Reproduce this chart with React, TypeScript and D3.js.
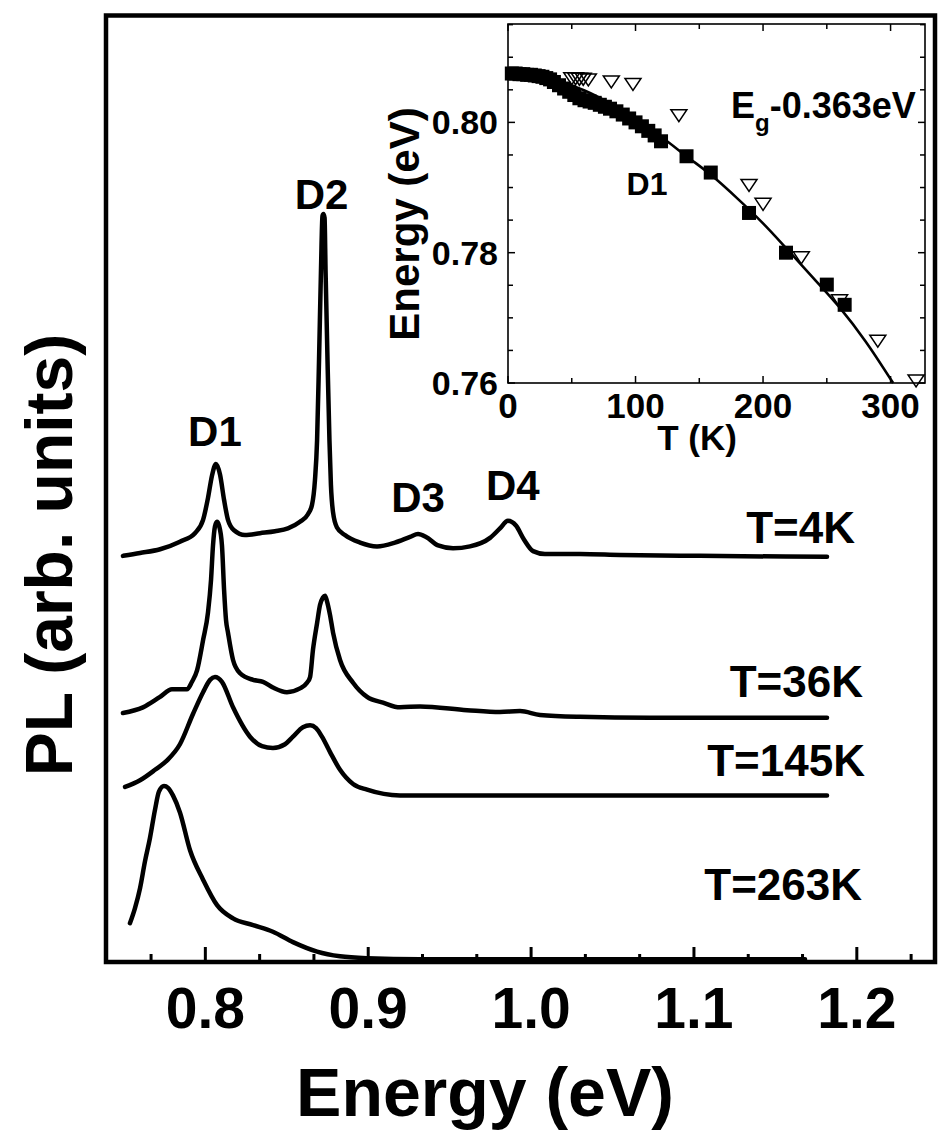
import React from "react";
import * as d3 from "d3";

// ---------- main panel: PL spectra (energy in eV, intensity in arb. units) ----------
const energyTicks = [0.8, 0.9, 1.0, 1.1, 1.2];

const spec4K_E = [0.7494, 0.7599, 0.7722, 0.7844, 0.7936, 0.7986, 0.8016, 0.8041, 0.8065, 0.809, 0.8115, 0.8139, 0.8176, 0.8243, 0.8336, 0.8428, 0.8507, 0.8581, 0.863, 0.8655, 0.8673, 0.8686, 0.8698, 0.871, 0.8719, 0.8725, 0.8732, 0.8738, 0.875, 0.8762, 0.8771, 0.8784, 0.8808, 0.8857, 0.895, 0.9054, 0.9164, 0.9257, 0.9306, 0.9355, 0.9429, 0.9521, 0.9625, 0.9748, 0.9809, 0.9858, 0.9907, 0.9957, 1.0012, 1.0085, 1.03, 1.0546, 1.1037, 1.1817];
const spec4K_I = [42.9, 43.2, 43.6, 44.4, 45.3, 46.7, 49.0, 51.4, 52.6, 51.5, 48.8, 46.7, 45.6, 45.1, 45.3, 45.5, 45.8, 46.5, 47.3, 48.3, 50.9, 55.1, 63.6, 73.1, 78.8, 79.0, 78.6, 73.1, 63.6, 55.1, 50.4, 47.5, 45.9, 45.1, 44.3, 43.9, 44.3, 44.9, 45.2, 44.9, 44.0, 43.7, 43.9, 44.8, 45.8, 46.6, 46.1, 44.6, 43.4, 43.1, 43.1, 43.0, 42.9, 42.8];

const spec36K_E = [0.7494, 0.7617, 0.7722, 0.7795, 0.7887, 0.7918, 0.7949, 0.7986, 0.8016, 0.8035, 0.8047, 0.8059, 0.8071, 0.8084, 0.8102, 0.8115, 0.8127, 0.8139, 0.817, 0.8213, 0.8293, 0.8354, 0.8415, 0.8501, 0.8581, 0.8624, 0.8643, 0.8661, 0.8686, 0.8704, 0.8722, 0.8735, 0.8747, 0.8765, 0.8784, 0.8827, 0.8907, 0.8993, 0.9091, 0.9195, 0.9318, 0.9607, 0.9809, 0.9932, 1.0055, 1.03, 1.073, 1.1817];
const spec36K_I = [26.3, 26.9, 28.0, 28.8, 28.8, 29.6, 30.8, 34.0, 36.9, 40.4, 44.0, 46.0, 46.5, 46.1, 44.0, 39.3, 36.1, 34.8, 31.9, 30.5, 29.8, 29.6, 29.0, 28.5, 28.9, 29.5, 30.1, 33.0, 35.8, 37.7, 38.5, 38.7, 38.1, 36.7, 34.8, 31.9, 29.5, 28.0, 27.4, 26.9, 27.0, 26.6, 26.4, 26.5, 26.1, 25.9, 25.8, 25.8];

const spec145K_E = [0.7507, 0.7599, 0.7691, 0.7765, 0.7844, 0.7924, 0.7986, 0.8029, 0.8059, 0.8102, 0.817, 0.8274, 0.8348, 0.8415, 0.8489, 0.8538, 0.8599, 0.8643, 0.868, 0.8716, 0.8765, 0.8827, 0.8907, 0.8993, 0.9195, 0.9809, 1.1817];
const spec145K_I = [18.5, 19.2, 20.3, 21.3, 23.0, 26.2, 28.5, 29.8, 30.1, 29.6, 26.9, 23.8, 22.8, 22.6, 23.0, 23.8, 24.8, 25.0, 24.7, 23.8, 22.2, 20.3, 18.8, 18.2, 17.6, 17.6, 17.6];

const spec263K_E = [0.7537, 0.7568, 0.7599, 0.7629, 0.766, 0.7691, 0.7715, 0.7746, 0.7771, 0.7801, 0.7844, 0.7906, 0.7986, 0.8072, 0.817, 0.8293, 0.8415, 0.8538, 0.8686, 0.8827, 0.8993, 0.9318, 1.1682];
const spec263K_I = [4.1, 5.7, 7.8, 10.6, 13.1, 16.1, 18.0, 18.6, 18.4, 17.6, 15.8, 11.8, 8.7, 6.0, 4.6, 3.9, 3.2, 2.1, 1.1, 0.6, 0.4, 0.3, 0.3];

const spectra = [
  { label: "T=4K", E: spec4K_E, I: spec4K_I },
  { label: "T=36K", E: spec36K_E, I: spec36K_I },
  { label: "T=145K", E: spec145K_E, I: spec145K_I },
  { label: "T=263K", E: spec263K_E, I: spec263K_I },
];

// peak names and the (energy, intensity) they sit above
const peakNames = ["D1", "D2", "D3", "D4"];
const peakE = [0.8059, 0.8714, 0.9306, 0.9888];
const peakI = [54.5, 79.5, 47.5, 48.8];

// temperature labels: right end energy and baseline intensity
const tempLabelE = [1.1989, 1.2038, 1.205, 1.2032];
const tempLabelI = [44.3, 28.0, 19.6, 6.5];

// ---------- inset: D1 peak energy vs temperature ----------
const insetTTicks = [0, 100, 200, 300];
const insetETicks = [0.76, 0.78, 0.8];

const d1SquareT = [3, 6, 9, 12, 15, 18, 21, 24, 27, 30, 33, 36, 40, 44, 48, 52, 56, 60, 64, 68, 72, 76, 80, 85, 90, 95, 100, 105, 110, 115, 120, 140, 159, 189, 218, 250, 264];
const d1SquareE = [0.8075, 0.8075, 0.8074, 0.8074, 0.8073, 0.8073, 0.8072, 0.8071, 0.807, 0.8068, 0.8066, 0.8062, 0.8057, 0.8052, 0.8047, 0.8042, 0.8037, 0.8034, 0.8032, 0.803, 0.8027, 0.8024, 0.8021, 0.8017, 0.8012, 0.8006, 0.8, 0.7994, 0.7987, 0.798, 0.7971, 0.7948, 0.7923, 0.7861, 0.78, 0.7751, 0.772];

const openTriT = [50, 53, 56, 59, 63, 81, 98, 134, 189, 200, 230, 260, 290, 320];
const openTriE = [0.8069, 0.8069, 0.8068, 0.8068, 0.8067, 0.8064, 0.806, 0.8012, 0.7905, 0.7876, 0.7794, 0.7728, 0.7666, 0.7605];

// band gap shifted by 0.363 eV
const gapLineT = [0, 20, 40, 60, 80, 100, 120, 140, 160, 180, 200, 220, 240, 260, 280, 302];
const gapLineE = [0.8075, 0.8072, 0.8063, 0.8049, 0.8029, 0.8004, 0.7978, 0.7948, 0.7918, 0.7883, 0.7845, 0.7803, 0.776, 0.7716, 0.7665, 0.76];

const FONT = "'Liberation Sans', Arial, Helvetica, sans-serif";

export default function App() {
  const W = 939;
  const H = 1134;

  // main axes
  const x = d3.scaleLinear().domain([0.739, 1.248]).range([106, 935]);
  const y = d3.scaleLinear().domain([0, 100]).range([962, 15.3]);

  const majorTicks = energyTicks;
  const minorTicks: number[] = [];
  for (let k = -2; k <= 13; k++) {
    const v = 0.8 + (k * 0.1) / 3;
    if (k % 3 !== 0 && v > 0.739 && v < 1.248) minorTicks.push(v);
  }

  const spectrumLine = d3
    .line<[number, number]>()
    .x((d) => x(d[0]))
    .y((d) => y(d[1]))
    .curve(d3.curveMonotoneX);

  // inset axes
  const ix = d3.scaleLinear().domain([0, 327]).range([508, 925]);
  const iy = d3.scaleLinear().domain([0.76, 0.8151]).range([383, 24]);
  const insetTMinor = d3.range(50, 327, 100);
  const insetEMinor = d3
    .range(0.765, 0.8151, 0.005)
    .filter((v) => Math.abs((v - 0.76) / 0.02 - Math.round((v - 0.76) / 0.02)) > 0.01);

  const fitLine = d3
    .line<[number, number]>()
    .x((d) => ix(d[0]))
    .y((d) => iy(d[1]))
    .curve(d3.curveMonotoneX);

  const sq = 14;
  const tri = 8;

  return (
    <svg
      width={W}
      height={H}
      viewBox={`0 0 ${W} ${H}`}
      style={{ position: "absolute", left: 0, top: 0, background: "#fff" }}
      fontFamily={FONT}
      fontWeight="bold"
    >
      <rect x={0} y={0} width={W} height={H} fill="#fff" />

      {/* spectra */}
      {spectra.map((s) => (
        <path
          key={s.label}
          d={spectrumLine(s.E.map((e, i) => [e, s.I[i]] as [number, number])) || ""}
          fill="none"
          stroke="#000"
          strokeWidth={4.5}
          strokeLinejoin="round"
          strokeLinecap="round"
        />
      ))}

      {/* bottom axis ticks (inward) */}
      {majorTicks.map((t) => (
        <line key={"M" + t} x1={x(t)} x2={x(t)} y1={962} y2={947} stroke="#000" strokeWidth={3} />
      ))}
      {minorTicks.map((t) => (
        <line key={"m" + t} x1={x(t)} x2={x(t)} y1={962} y2={954} stroke="#000" strokeWidth={3} />
      ))}

      {/* main frame */}
      <rect x={106} y={15.5} width={829} height={946.5} fill="none" stroke="#000" strokeWidth={4.5} />

      {/* tick labels */}
      {majorTicks.map((t) => (
        <text key={"L" + t} x={x(t)} y={1028} textAnchor="middle" fontSize={57}>
          {d3.format(".1f")(t)}
        </text>
      ))}

      {/* axis titles */}
      <text x={485} y={1116} textAnchor="middle" fontSize={68}>
        Energy (eV)
      </text>
      <text transform="translate(72,555) rotate(-90)" textAnchor="middle" fontSize={66}>
        PL (arb. units)
      </text>

      {/* peak labels */}
      {peakNames.map((n, i) => (
        <text key={n} x={x(peakE[i])} y={y(peakI[i])} textAnchor="middle" fontSize={42}>
          {n}
        </text>
      ))}

      {/* temperature labels */}
      {spectra.map((s, i) => (
        <text key={"t" + s.label} x={x(tempLabelE[i])} y={y(tempLabelI[i])} textAnchor="end" fontSize={44}>
          {s.label}
        </text>
      ))}

      {/* ---------- inset ---------- */}
      <g>
        <rect x={508} y={24} width={417} height={359} fill="#fff" stroke="#000" strokeWidth={1.6} />
        {insetTTicks.concat(insetTMinor).map((t) => {
          const major = insetTTicks.includes(t);
          const len = major ? 7 : 5;
          return (
            <g key={"it" + t}>
              <line x1={ix(t)} x2={ix(t)} y1={383} y2={383 - len} stroke="#000" strokeWidth={1.5} />
              <line x1={ix(t)} x2={ix(t)} y1={24} y2={24 + len} stroke="#000" strokeWidth={1.5} />
            </g>
          );
        })}
        {insetETicks.concat(insetEMinor).map((e) => {
          const major = insetETicks.includes(e);
          const len = major ? 7 : 5;
          return (
            <g key={"ie" + e}>
              <line x1={508} x2={508 + len} y1={iy(e)} y2={iy(e)} stroke="#000" strokeWidth={1.5} />
              <line x1={925} x2={925 - len} y1={iy(e)} y2={iy(e)} stroke="#000" strokeWidth={1.5} />
            </g>
          );
        })}

        {/* fit line */}
        <path
          d={fitLine(gapLineT.map((t, i) => [t, gapLineE[i]] as [number, number])) || ""}
          fill="none"
          stroke="#000"
          strokeWidth={2.6}
        />

        {/* D1 peak positions */}
        {d1SquareT.map((t, i) => (
          <rect key={"s" + i} x={ix(t) - sq / 2} y={iy(d1SquareE[i]) - sq / 2} width={sq} height={sq} fill="#000" />
        ))}
        {openTriT.map((t, i) => {
          const cx = ix(t);
          const cy = iy(openTriE[i]);
          return (
            <path
              key={"tr" + i}
              d={`M${cx - tri},${cy - tri * 0.6} L${cx + tri},${cy - tri * 0.6} L${cx},${cy + tri * 0.9} Z`}
              fill="none"
              stroke="#000"
              strokeWidth={1.5}
            />
          );
        })}

        {/* inset tick labels */}
        {insetTTicks.map((t) => (
          <text key={"itl" + t} x={ix(t)} y={418} textAnchor="middle" fontSize={35}>
            {t}
          </text>
        ))}
        {insetETicks.map((e) => (
          <text key={"iel" + e} x={498} y={iy(e) + 12} textAnchor="end" fontSize={34}>
            {d3.format(".2f")(e)}
          </text>
        ))}
        <text x={697} y={450} textAnchor="middle" fontSize={35}>
          T (K)
        </text>
        <text transform="translate(419,224) rotate(-90)" textAnchor="middle" fontSize={42}>
          Energy (eV)
        </text>
        <text x={647} y={195} textAnchor="middle" fontSize={32}>
          D1
        </text>
        <text x={731} y={118} fontSize={36}>
          E
          <tspan fontSize={24} dy={13}>g</tspan>
          <tspan dy={-13}>-0.363eV</tspan>
        </text>
      </g>
    </svg>
  );
}
